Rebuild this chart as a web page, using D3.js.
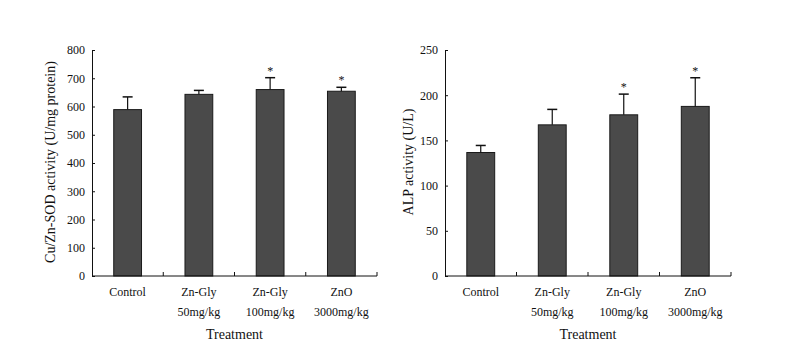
<!DOCTYPE html>
<html>
<head>
<meta charset="utf-8">
<script src="https://cdn.jsdelivr.net/npm/d3@7"></script>
<style>
  body { margin: 0; background: #fff; }
  text { font-family: "Liberation Serif", "DejaVu Serif", serif; fill: #111; }
</style>
</head>
<body>
<div id="chart-area"></div>
<script>
var groups = ["Control", "Zn-Gly 50mg/kg", "Zn-Gly 100mg/kg", "ZnO 3000mg/kg"];
var groupLines = [["Control"], ["Zn-Gly", "50mg/kg"], ["Zn-Gly", "100mg/kg"], ["ZnO", "3000mg/kg"]];

var sodMean = [589, 643, 660, 654];
var sodErr = [45, 14, 42, 14];
var sodStar = [false, false, true, true];
var sodTicks = [0, 100, 200, 300, 400, 500, 600, 700, 800];

var alpMean = [136.6, 167.2, 178.3, 187.6];
var alpErr = [7.8, 17.1, 22.9, 31.7];
var alpStar = [false, false, true, true];
var alpTicks = [0, 50, 100, 150, 200, 250];

var svg = d3.select("#chart-area")
  .append("svg")
  .attr("width", 797)
  .attr("height", 350);

function drawPanel(opts) {
  var width = opts.right - opts.left;
  var height = 276 - 50;

  var g = svg.append("g")
    .attr("transform", "translate(" + opts.left + ",50)");

  var x = d3.scaleBand()
    .domain(groups)
    .range([0, width])
    .paddingInner(0.61)
    .paddingOuter(0.305);

  var y = d3.scaleLinear()
    .domain([0, opts.max])
    .range([height, 0]);

  var mid = i => x(groups[i]) + x.bandwidth() / 2;

  // Bars
  g.selectAll("rect.bar")
    .data(opts.mean)
    .enter()
    .append("rect")
    .attr("class", "bar")
    .attr("x", (d, i) => x(groups[i]))
    .attr("y", d => y(d))
    .attr("width", x.bandwidth())
    .attr("height", d => height - y(d))
    .attr("fill", "#4a4a4a")
    .attr("stroke", "#1a1a1a")
    .attr("stroke-width", 1);

  // Error bars (upper only)
  var eb = g.selectAll("g.err")
    .data(opts.mean)
    .enter()
    .append("g")
    .attr("class", "err");
  eb.append("line")
    .attr("x1", (d, i) => mid(i))
    .attr("x2", (d, i) => mid(i))
    .attr("y1", d => y(d))
    .attr("y2", (d, i) => y(d + opts.err[i]))
    .attr("stroke", "#111")
    .attr("stroke-width", 1.2);
  eb.append("line")
    .attr("x1", (d, i) => mid(i) - 5)
    .attr("x2", (d, i) => mid(i) + 5)
    .attr("y1", (d, i) => y(d + opts.err[i]))
    .attr("y2", (d, i) => y(d + opts.err[i]))
    .attr("stroke", "#111")
    .attr("stroke-width", 1.5);

  // Significance stars
  g.selectAll("text.star")
    .data(opts.mean.map((d, i) => ({ v: d + opts.err[i], s: opts.star[i], i: i })).filter(d => d.s))
    .enter()
    .append("text")
    .attr("class", "star")
    .attr("x", d => mid(d.i))
    .attr("y", d => y(d.v) - 3)
    .attr("text-anchor", "middle")
    .attr("font-size", "12px")
    .text("*");

  // Y Axis (ticks pointing inward)
  var yAxis = g.append("g")
    .call(d3.axisLeft(y).tickValues(opts.ticks).tickSizeInner(-3).tickSizeOuter(0).tickPadding(7));
  yAxis.select(".domain").attr("stroke", "#111");
  yAxis.selectAll(".tick line").attr("stroke", "#111");
  yAxis.selectAll("text").style("font-family", "'Liberation Serif', serif").style("font-size", "12px");

  // X Axis line + ticks at band boundaries
  g.append("line")
    .attr("x1", 0).attr("x2", width)
    .attr("y1", height).attr("y2", height)
    .attr("stroke", "#111");
  var gap = (x.step() - x.bandwidth()) / 2;
  g.selectAll("line.xtick")
    .data(groups)
    .enter()
    .append("line")
    .attr("class", "xtick")
    .attr("x1", d => x(d) + x.bandwidth() + gap)
    .attr("x2", d => x(d) + x.bandwidth() + gap)
    .attr("y1", height)
    .attr("y2", height - 4)
    .attr("stroke", "#111");

  // X tick labels
  groupLines.forEach((lines, i) => {
    lines.forEach((t, k) => {
      g.append("text")
        .attr("x", mid(i))
        .attr("y", height + 20 + k * 20)
        .attr("text-anchor", "middle")
        .attr("font-size", "12px")
        .text(t);
    });
  });

  // X Label
  g.append("text")
    .attr("x", width / 2)
    .attr("y", height + 63)
    .attr("text-anchor", "middle")
    .attr("font-size", "14px")
    .text("Treatment");

  // Y Label
  g.append("text")
    .attr("transform", "rotate(-90)")
    .attr("x", -(height / 2) + 1)
    .attr("y", opts.labelX - opts.left + 5)
    .attr("text-anchor", "middle")
    .attr("font-size", "14px")
    .text(opts.label);
}

drawPanel({ left: 92, right: 377, max: 800, ticks: sodTicks, mean: sodMean, err: sodErr, star: sodStar,
  label: "Cu/Zn-SOD activity (U/mg protein)", labelX: 50 });
drawPanel({ left: 445, right: 731, max: 250, ticks: alpTicks, mean: alpMean, err: alpErr, star: alpStar,
  label: "ALP activity (U/L)", labelX: 408 });
</script>
</body>
</html>
